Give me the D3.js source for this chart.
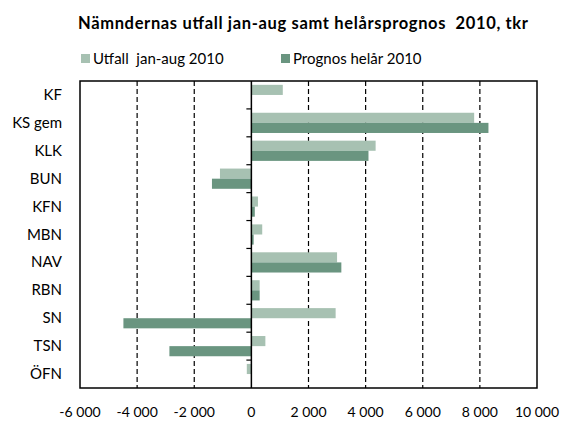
<!DOCTYPE html>
<html lang="sv">
<head>
<meta charset="utf-8">
<script src="https://d3js.org/d3.v7.min.js"></script>
<style>
  body { margin: 0; background: #fff; }
  text { font-family: Lato, "Open Sans", sans-serif; fill: #000; }
</style>
</head>
<body>
<script>
// data (tkr)
var categories = ["KF", "KS gem", "KLK", "BUN", "KFN", "MBN", "NAV", "RBN", "SN", "TSN", "ÖFN"];
var utfall   = [1100, 7800, 4350, -1100, 230, 380, 3000, 290, 2950, 490, -160];
var prognos  = [0, 8300, 4100, -1380, 120, 80, 3150, 290, -4480, -2870, 0];
var seriesNames = ["Utfall  jan-aug 2010", "Prognos helår 2010"];
var xTicks = [-6000, -4000, -2000, 0, 2000, 4000, 6000, 8000, 10000];

var colors = ["#a7c1b2", "#6a9580"];
var W = 562, H = 421;
var plotL = 80, plotR = 537, plotT = 81, plotB = 388;

var svg = d3.select("body").append("svg")
    .attr("width", W)
    .attr("height", H);

var sv = d3.formatLocale({decimal: ",", thousands: " ", grouping: [3], currency: ["", " kr"], minus: "-"});
var fmt = sv.format(",d");

var x = d3.scaleLinear().domain([-6000, 10000]).range([plotL, plotR]);
var y = d3.scaleBand().domain(categories).range([plotT, plotB]);
var inner = d3.scaleBand().domain([0, 1]).range([0, y.bandwidth()]).paddingInner(0).paddingOuter(0.38);

// title
svg.append("text")
    .attr("x", 78).attr("y", 29)
    .attr("textLength", 450)
    .attr("lengthAdjust", "spacing")
    .style("font-weight", "bold")
    .style("font-size", "16.5px")
    .style("white-space", "pre")
    .text("Nämndernas utfall jan-aug samt helårsprognos  2010, tkr");

// legend
var legX = [81, 281];
seriesNames.forEach(function (n, i) {
    svg.append("rect").attr("x", legX[i]).attr("y", 54).attr("width", 9).attr("height", 9).attr("fill", colors[i]);
    svg.append("text").attr("x", legX[i] + 12).attr("y", 63.5).style("font-size", "15px").style("white-space", "pre").text(n);
});

// gridlines
svg.append("g").selectAll("line")
    .data(xTicks.filter(function (d) { return d != 0 && d != -6000 && d != 10000; }))
    .enter().append("line")
    .attr("x1", function (d) { return x(d); }).attr("x2", function (d) { return x(d); })
    .attr("y1", plotT).attr("y2", plotB)
    .attr("stroke", "#000").attr("stroke-width", 1.2)
    .attr("stroke-dasharray", "5,3");

// bars
var rows = categories.map(function (c, i) { return {c: c, v: [utfall[i], prognos[i]]}; });
var g = svg.append("g").selectAll("g").data(rows).enter().append("g")
    .attr("transform", function (d) { return "translate(0," + y(d.c) + ")"; });
g.selectAll("rect")
    .data(function (d) { return d.v.map(function (v, k) { return {k: k, v: v}; }); })
    .enter().append("rect")
    .attr("x", function (d) { return x(Math.min(0, d.v)); })
    .attr("width", function (d) { return Math.abs(x(d.v) - x(0)); })
    .attr("y", function (d) { return inner(d.k); })
    .attr("height", inner.bandwidth())
    .attr("fill", function (d) { return colors[d.k]; });

// frame
svg.append("rect")
    .attr("x", plotL).attr("y", plotT)
    .attr("width", plotR - plotL).attr("height", plotB - plotT)
    .attr("fill", "none").attr("stroke", "#000").attr("stroke-width", 1.5);

// zero axis with ticks at band edges
svg.append("line")
    .attr("x1", x(0)).attr("x2", x(0)).attr("y1", plotT).attr("y2", plotB)
    .attr("stroke", "#000").attr("stroke-width", 1.5);
svg.append("g").selectAll("line")
    .data(categories.slice(1))
    .enter().append("line")
    .attr("x1", x(0) - 5).attr("x2", x(0))
    .attr("y1", function (d) { return y(d); }).attr("y2", function (d) { return y(d); })
    .attr("stroke", "#000").attr("stroke-width", 1.2);

// category labels
svg.append("g").selectAll("text")
    .data(categories)
    .enter().append("text")
    .attr("x", 62)
    .attr("y", function (d) { return y(d) + y.bandwidth() / 2 + 5; })
    .attr("text-anchor", "end")
    .style("font-size", "15px")
    .text(function (d) { return d; });

// x labels
svg.append("g").selectAll("text")
    .data(xTicks)
    .enter().append("text")
    .attr("x", function (d) { return x(d); })
    .attr("y", 417)
    .attr("text-anchor", "middle")
    .style("font-size", "14px")
    .text(function (d) { return fmt(d); });
</script>
</body>
</html>
